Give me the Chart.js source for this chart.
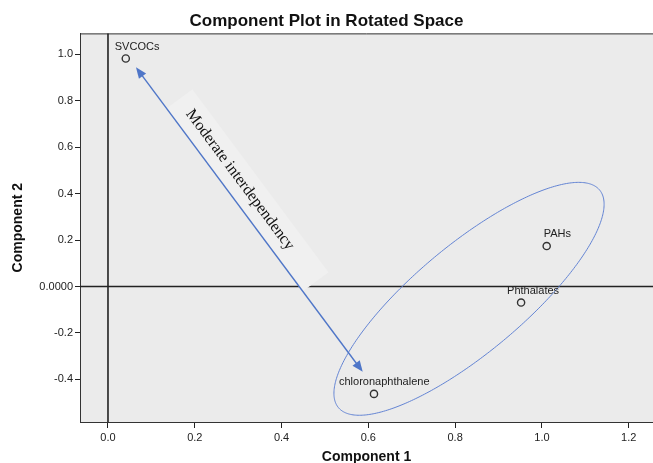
<!DOCTYPE html>
<html><head><meta charset="utf-8">
<script src="https://cdn.jsdelivr.net/npm/chart.js@4/dist/chart.umd.min.js"></script>
<style>html,body{margin:0;padding:0;background:#fff}#wrap{width:653px;height:463px}</style>
</head><body><div id="wrap"><canvas id="c" width="653" height="463"></canvas></div>
<script>
// ---- data ----
const variables = ['SVCOCs', 'PAHs', 'Phthalates', 'chloronaphthalene'];
const component1 = [0.041, 1.011, 0.952, 0.613];
const component2 = [0.981, 0.174, -0.069, -0.462];
const xTicks = [0, 0.2, 0.4, 0.6, 0.8, 1.0, 1.2];
const xTickLabels = ['0.0', '0.2', '0.4', '0.6', '0.8', '1.0', '1.2'];
const yTicks = [-0.4, -0.2, 0, 0.2, 0.4, 0.6, 0.8, 1.0];
const yTickLabels = ['-0.4', '-0.2', '0.0000', '0.2', '0.4', '0.6', '0.8', '1.0'];
const arrowStart = [0.0645, 0.943];
const arrowEnd = [0.587, -0.367];
const annotationText = 'Moderate interdependency';
const annotationAnchor = [0.304, 0.459];
const ellipseCenter = [0.832, -0.053];
const ellipseAxisA = [0.301, 0.468];
const ellipseAxisB = [0.0795, -0.179];

// ---- styles ----
const SANS = '"Liberation Sans", Arial, sans-serif';
const labelStyle = { // pixel offsets of point labels (left edge relative to point)
  SVCOCs: -11, PAHs: -3, Phthalates: -14, chloronaphthalene: -35
};
const BLUE = '#4f76c8';

const decor = {
  id: 'decor',
  beforeDraw(chart) {
    const {ctx, chartArea: a} = chart;
    ctx.save();
    ctx.fillStyle = '#ebebeb';
    ctx.fillRect(a.left, a.top, a.right - a.left, a.bottom - a.top);
    ctx.restore();
  },
  beforeDatasetsDraw(chart) {
    const {ctx, chartArea: a, scales: {x, y}} = chart;
    ctx.save();
    // top frame
    ctx.strokeStyle = '#333'; ctx.lineWidth = 1;
    ctx.beginPath(); ctx.moveTo(a.left, a.top + 0.5); ctx.lineTo(a.right, a.top + 0.5); ctx.stroke();
    // reference lines
    ctx.strokeStyle = '#222'; ctx.lineWidth = 1.6;
    const x0 = x.getPixelForValue(0), y0 = y.getPixelForValue(0);
    ctx.beginPath(); ctx.moveTo(x0, a.top); ctx.lineTo(x0, a.bottom); ctx.stroke();
    ctx.beginPath(); ctx.moveTo(a.left, y0); ctx.lineTo(a.right, y0); ctx.stroke();
    // ellipse
    ctx.strokeStyle = '#6384d4'; ctx.lineWidth = 1;
    ctx.beginPath();
    for (let i = 0; i <= 360; i++) {
      const t = i * Math.PI / 180;
      const px = x.getPixelForValue(ellipseCenter[0] + ellipseAxisA[0] * Math.cos(t) + ellipseAxisB[0] * Math.sin(t));
      const py = y.getPixelForValue(ellipseCenter[1] + ellipseAxisA[1] * Math.cos(t) + ellipseAxisB[1] * Math.sin(t));
      if (i === 0) ctx.moveTo(px, py); else ctx.lineTo(px, py);
    }
    ctx.closePath(); ctx.stroke();
    // annotation box + text
    const sx = x.getPixelForValue(arrowStart[0]), sy = y.getPixelForValue(arrowStart[1]);
    const ex = x.getPixelForValue(arrowEnd[0]), ey = y.getPixelForValue(arrowEnd[1]);
    const ang = Math.atan2(ey - sy, ex - sx);
    const tx = x.getPixelForValue(annotationAnchor[0]), ty = y.getPixelForValue(annotationAnchor[1]);
    ctx.save();
    ctx.translate(tx, ty); ctx.rotate(ang);
    ctx.fillStyle = '#f0f0f0';
    ctx.fillRect(-101, -16, 228, 32);
    ctx.fillStyle = '#111';
    ctx.font = '16px "Liberation Serif", "Times New Roman", serif';
    ctx.textAlign = 'center'; ctx.textBaseline = 'middle';
    ctx.fillText(annotationText, 0, 0);
    ctx.restore();
    // arrow
    ctx.strokeStyle = BLUE; ctx.fillStyle = BLUE; ctx.lineWidth = 1.4;
    const L = 11, W = 4.5;
    const ux = Math.cos(ang), uy = Math.sin(ang);
    ctx.beginPath(); ctx.moveTo(sx + ux * L * 0.8, sy + uy * L * 0.8); ctx.lineTo(ex - ux * L * 0.8, ey - uy * L * 0.8); ctx.stroke();
    const head = (px, py, dx, dy) => {
      ctx.beginPath();
      ctx.moveTo(px, py);
      ctx.lineTo(px - dx * L - dy * W, py - dy * L + dx * W);
      ctx.lineTo(px - dx * L + dy * W, py - dy * L - dx * W);
      ctx.closePath(); ctx.fill();
    };
    head(ex, ey, ux, uy);
    head(sx, sy, -ux, -uy);
    ctx.restore();
  },
  afterDatasetsDraw(chart) {
    const {ctx, scales: {x, y}} = chart;
    ctx.save();
    ctx.fillStyle = '#222';
    ctx.font = '11px ' + SANS;
    ctx.textAlign = 'left'; ctx.textBaseline = 'middle';
    variables.forEach((v, i) => {
      const px = x.getPixelForValue(component1[i]), py = y.getPixelForValue(component2[i]);
      ctx.fillText(v, px + labelStyle[v], py - 12);
    });
    ctx.restore();
  }
};

new Chart(document.getElementById('c'), {
  type: 'scatter',
  data: {
    datasets: [{
      data: component1.map((v, i) => ({x: v, y: component2[i]})),
      pointStyle: 'circle', pointRadius: 3.6, pointBorderWidth: 1.4,
      pointBorderColor: '#333', pointBackgroundColor: 'rgba(0,0,0,0)'
    }]
  },
  options: {
    responsive: false, animation: false, devicePixelRatio: 1,
    layout: {autoPadding: false, padding: {left: 0, right: 0, top: 0, bottom: 0}},
    plugins: {
      legend: {display: false}, tooltip: {enabled: false},
      title: {display: true, text: 'Component Plot in Rotated Space', color: '#111',
        font: {family: SANS, size: 17, weight: 'bold'}, padding: {top: 11, bottom: 2}}
    },
    scales: {
      x: {
        type: 'linear', min: -0.0645, max: 1.256,
        afterBuildTicks: s => { s.ticks = xTicks.map(v => ({value: v})); },
        afterFit: s => { s.height = 41; s.paddingLeft = 0; s.paddingRight = 0; },
        grid: {display: true, drawOnChartArea: false, drawTicks: true, tickLength: 6, color: '#222'},
        border: {display: true, color: '#333', width: 1},
        ticks: {color: '#222', font: {family: SANS, size: 11}, padding: 3, maxRotation: 0, autoSkip: false,
          callback: v => xTickLabels[xTicks.findIndex(t => Math.abs(t - v) < 1e-9)]},
        title: {display: true, text: 'Component 1', color: '#111', font: {family: SANS, size: 14, weight: 'bold'}, padding: {top: 0, bottom: -3}}
      },
      y: {
        type: 'linear', min: -0.583, max: 1.089,
        afterBuildTicks: s => { s.ticks = yTicks.map(v => ({value: v})); },
        afterFit: s => { s.width = 80; s.paddingTop = 0; s.paddingBottom = 0; },
        grid: {display: true, drawOnChartArea: false, drawTicks: true, tickLength: 5, color: '#222'},
        border: {display: true, color: '#333', width: 1},
        ticks: {color: '#222', font: {family: SANS, size: 11}, padding: 2, autoSkip: false,
          callback: v => yTickLabels[yTicks.findIndex(t => Math.abs(t - v) < 1e-9)]},
        title: {display: true, text: 'Component 2', color: '#111', font: {family: SANS, size: 14, weight: 'bold'}, padding: {top: 10, bottom: 0}}
      }
    }
  },
  plugins: [decor]
});
</script></body></html>
